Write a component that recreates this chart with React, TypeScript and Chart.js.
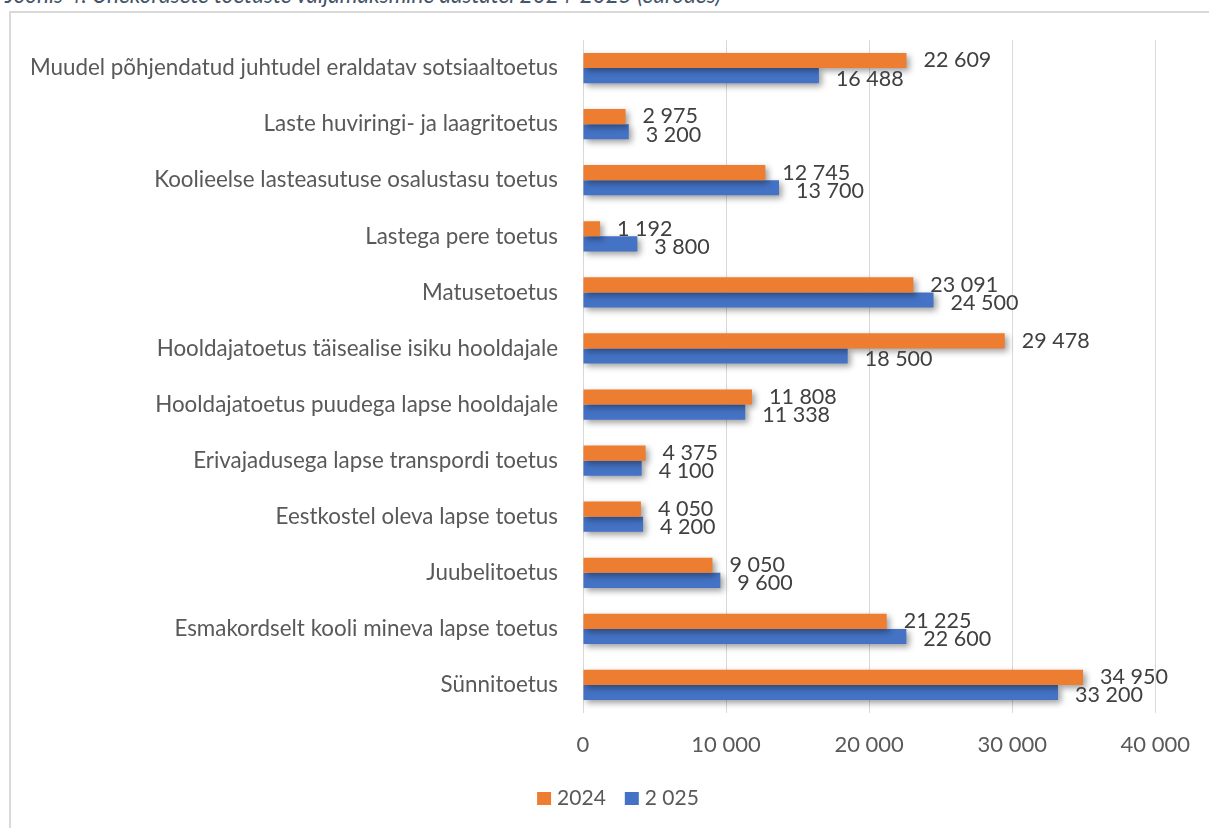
import React, { useEffect, useRef } from "react";
import { Chart, registerables } from "chart.js";

Chart.register(...registerables);

const categories = [
  "Muudel põhjendatud juhtudel eraldatav sotsiaaltoetus",
  "Laste huviringi- ja laagritoetus",
  "Koolieelse lasteasutuse osalustasu toetus",
  "Lastega pere toetus",
  "Matusetoetus",
  "Hooldajatoetus täisealise isiku hooldajale",
  "Hooldajatoetus puudega lapse hooldajale",
  "Erivajadusega lapse transpordi toetus",
  "Eestkostel oleva lapse toetus",
  "Juubelitoetus",
  "Esmakordselt kooli mineva lapse toetus",
  "Sünnitoetus",
];

const values2024 = [22609, 2975, 12745, 1192, 23091, 29478, 11808, 4375, 4050, 9050, 21225, 34950];
const values2025 = [16488, 3200, 13700, 3800, 24500, 18500, 11338, 4100, 4200, 9600, 22600, 33200];

const seriesLabels = ["2024", "2 025"];
const seriesColors = ["#ED7D31", "#4472C4"];
const xTickValues = [0, 10000, 20000, 30000, 40000];

const titleText = "Joonis 4. Ühekordsete toetuste väljamaksmine aastatel 2024-2025 (eurodes)";

const FONT = "Lato";
const fmt = (v: number) => String(Math.round(v)).replace(/\B(?=(\d{3})+(?!\d))/g, " ");

const shadowPlugin = {
  id: "barShadow",
  beforeDatasetDraw(chart: any) {
    const ctx = chart.ctx;
    ctx.save();
    ctx.shadowColor = "rgba(0,0,0,0.38)";
    ctx.shadowBlur = 6;
    ctx.shadowOffsetX = 3;
    ctx.shadowOffsetY = 3;
  },
  afterDatasetDraw(chart: any) {
    chart.ctx.restore();
  },
};

const labelPlugin = {
  id: "barLabels",
  afterDatasetsDraw(chart: any) {
    const ctx = chart.ctx;
    ctx.save();
    ctx.font = `21.5px ${FONT}`;
    ctx.fillStyle = "#404040";
    ctx.textAlign = "left";
    ctx.textBaseline = "middle";
    chart.data.datasets.forEach((ds: any, di: number) => {
      const meta = chart.getDatasetMeta(di);
      meta.data.forEach((bar: any, i: number) => {
        const dy = di === 0 ? 0 : 3;
        ctx.fillText(fmt(ds.data[i]), bar.x + 17, bar.y + dy);
      });
    });
    ctx.restore();
  },
};

const legendPlugin = {
  id: "customLegend",
  afterDraw(chart: any) {
    const ctx = chart.ctx;
    ctx.save();
    ctx.font = `21px ${FONT}`;
    ctx.textBaseline = "middle";
    ctx.textAlign = "left";
    const boxW = 14;
    const boxH = 13;
    const gap = 6;
    const itemGap = 19;
    const items = chart.data.datasets.map((ds: any) => ({
      label: ds.label,
      color: ds.backgroundColor,
      w: ctx.measureText(ds.label).width,
    }));
    const total = items.reduce((s: number, it: any) => s + boxW + gap + it.w, 0) + itemGap * (items.length - 1);
    const cy = 798.5;
    let x = 618 - total / 2;
    items.forEach((it: any) => {
      ctx.fillStyle = it.color;
      ctx.fillRect(x, cy - boxH / 2, boxW, boxH);
      x += boxW + gap;
      ctx.fillStyle = "#595959";
      ctx.fillText(it.label, x, cy);
      x += it.w + itemGap;
    });
    ctx.restore();
  },
};

export default function App() {
  const ref = useRef<HTMLCanvasElement>(null);

  useEffect(() => {
    if (!ref.current) return;
    const chart = new Chart(ref.current, {
      type: "bar",
      data: {
        labels: categories,
        datasets: [
          { label: seriesLabels[0], data: values2024, backgroundColor: seriesColors[0], borderWidth: 0 },
          { label: seriesLabels[1], data: values2025, backgroundColor: seriesColors[1], borderWidth: 0 },
        ],
      },
      plugins: [shadowPlugin, labelPlugin, legendPlugin],
      options: {
        indexAxis: "y",
        responsive: false,
        animation: false,
        datasets: { bar: { categoryPercentage: 0.54, barPercentage: 1.0 } },
        layout: { padding: { top: 40, right: 52, bottom: 55, left: 0 } },
        scales: {
          x: {
            min: 0,
            max: 40000,
            afterBuildTicks: (scale: any) => {
              scale.ticks = xTickValues.map((v) => ({ value: v }));
            },
            afterFit: (scale: any) => {
              scale.height = 60;
            },
            grid: { color: "#D9D9D9", lineWidth: 1, drawTicks: false },
            border: { display: false },
            ticks: {
              padding: 19,
              color: "#595959",
              font: { family: FONT, size: 22 },
              callback: (v: any) => fmt(Number(v)),
            },
          },
          y: {
            afterFit: (scale: any) => {
              scale.width = 583;
            },
            grid: { display: false, drawTicks: false },
            border: { display: false },
            ticks: {
              padding: 25,
              color: "#595959",
              font: { family: FONT, size: 22.4 },
              autoSkip: false,
            },
          },
        },
        plugins: {
          legend: { display: false },
          tooltip: { enabled: false },
          title: { display: false },
        },
      },
    });
    return () => chart.destroy();
  }, []);

  return (
    <div style={{ position: "fixed", left: 0, top: 0, width: 1209, height: 828, overflow: "hidden", background: "#fff" }}>
      <div
        style={{
          position: "absolute",
          left: 5,
          top: -16,
          whiteSpace: "nowrap",
          fontFamily: FONT,
          fontStyle: "italic",
          fontSize: 22.5,
          lineHeight: "22px",
          color: "#44546A",
        }}
      >
        {titleText}
      </div>
      <div
        style={{
          position: "absolute",
          left: 9,
          top: 11,
          width: 1400,
          height: 1000,
          border: "2px solid #D9D9D9",
          boxSizing: "border-box",
        }}
      />
      <canvas ref={ref} width={1209} height={828} style={{ position: "absolute", left: 0, top: 0, width: 1209, height: 828 }} />
    </div>
  );
}
